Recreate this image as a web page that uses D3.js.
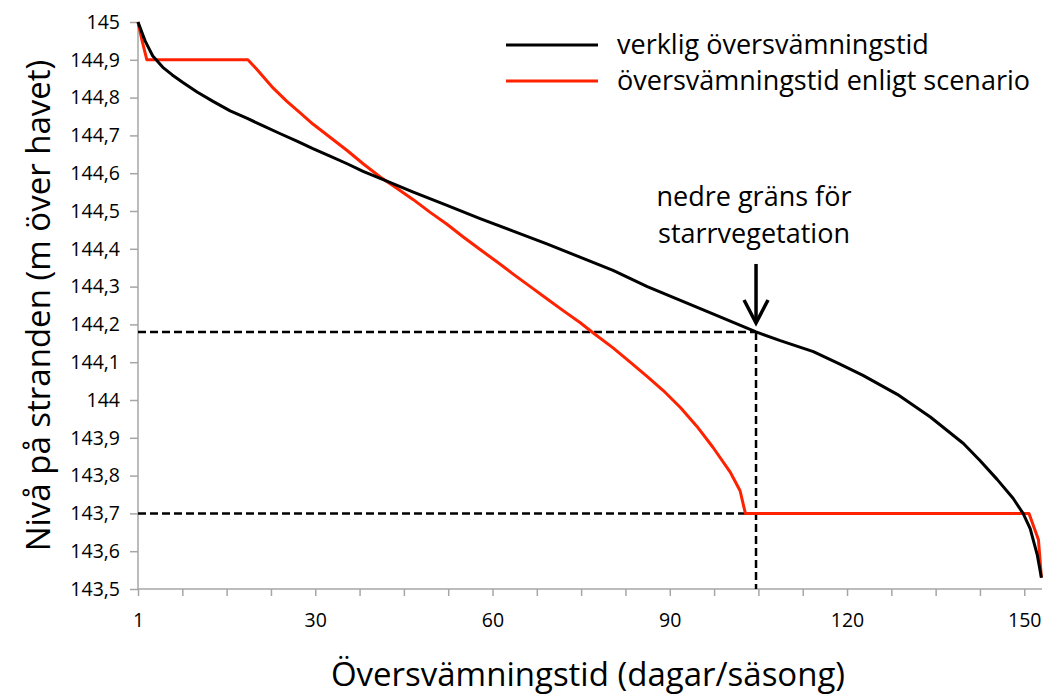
<!DOCTYPE html>
<html>
<head>
<meta charset="utf-8">
<script src="https://cdn.jsdelivr.net/npm/d3@7"></script>
<style>
  body { margin: 0; background: #fff; }
  text { font-family: "Open Sans", sans-serif; fill: #000; }
</style>
</head>
<body>
<svg id="svgChart" width="1046" height="695"></svg>
<script>
// Actual flooding duration (days/season) for each shore level
let actualDays = [0, 1.2, 2.5, 4.2, 5.8, 7.6, 10, 12.7, 15.6, 18.5, 21.2, 24.0, 26.9, 29.6,
  32.5, 35.4, 38.1, 41.5, 46.6, 52.3, 57.9, 63.5, 69.2, 74.8, 80.4, 86.2, 97.3, 104.6,
  108.7, 114.3, 118.8, 122.7, 128.5, 134.1, 139.7, 142.5, 145.4, 148.1, 149.8, 151.0,
  152.2, 152.9];
let actualLevels = [145, 144.95, 144.91, 144.88, 144.86, 144.84, 144.815, 144.79, 144.765,
  144.745, 144.725, 144.705, 144.685, 144.665, 144.645, 144.625, 144.605, 144.583, 144.55,
  144.515, 144.48, 144.447, 144.413, 144.378, 144.343, 144.30, 144.228, 144.18, 144.157,
  144.128, 144.095, 144.065, 144.015, 143.955, 143.885, 143.84, 143.79, 143.74, 143.70,
  143.66, 143.59, 143.53];

// Flooding duration according to the scenario
let scenarioDays = [0, 0.7, 1.5, 18.6, 20.1, 21.2, 22.9, 25.2, 27.4, 29.6, 32.5, 35.4,
  38.1, 41.0, 43.8, 46.6, 49.4, 52.3, 55.0, 57.9, 60.8, 63.5, 66.4, 69.2, 71.9, 74.8,
  77.0, 80.4, 83.3, 86.2, 88.9, 91.8, 94.6, 97.3, 100.2, 101.9, 102.8, 150.8, 152.4, 152.9];
let scenarioLevels = [145, 144.95, 144.90, 144.90, 144.875, 144.855, 144.825, 144.79,
  144.76, 144.73, 144.695, 144.66, 144.625, 144.59, 144.56, 144.53, 144.497, 144.465,
  144.432, 144.398, 144.365, 144.333, 144.30, 144.268, 144.237, 144.205, 144.178, 144.138,
  144.10, 144.062, 144.025, 143.98, 143.93, 143.875, 143.81, 143.76, 143.70, 143.70,
  143.63, 143.53];

// Reference levels
let sedgeLimitDay = 104.6;
let sedgeLimitLevel = 144.18;
let scenarioFloor = 143.7;

// Axis ticks and labels
let xTicks = d3.range(0, 151, 7.5);
let xLabelTicks = [0, 30, 60, 90, 120, 150];
let xLabels = ["1", "30", "60", "90", "120", "150"];
let yTicks = d3.range(0, 16).map(i => 143.5 + i * 0.1);

let seriesNames = ["verklig översvämningstid", "översvämningstid enligt scenario"];
let seriesColours = ["#000000", "#ff2200"];

let svg = d3.select("#svgChart");

let x = d3.scaleLinear().domain([0, 153]).range([138, 1042]);
let y = d3.scaleLinear().domain([143.5, 145]).range([589, 22]);

// Y axis
let yAxis = svg.append("g")
  .attr("transform", `translate(${x(0)},0)`)
  .call(d3.axisLeft(y)
    .tickValues(yTicks)
    .tickSize(8)
    .tickPadding(10)
    .tickFormat(d => String(Math.round(d * 10) / 10).replace(".", ",")));
yAxis.selectAll("text").style("font-size", "19.5px");

// X axis
let xAxis = svg.append("g")
  .attr("transform", `translate(0,${y(143.5)})`)
  .call(d3.axisBottom(x)
    .tickValues(xTicks)
    .tickSize(7)
    .tickPadding(17)
    .tickFormat(d => {
      let i = xLabelTicks.indexOf(d);
      return i >= 0 ? xLabels[i] : "";
    }));
xAxis.selectAll("text").style("font-size", "19.5px");

svg.selectAll(".domain, .tick line")
  .attr("stroke", "#a6a6a6")
  .attr("stroke-width", 1.5);
svg.selectAll(".domain").attr("d", function() {
  return this.parentNode === xAxis.node()
    ? `M${x(0)},0H${x(153)}`
    : `M0,${y(143.5)}V${y(145)}`;
});

// Dashed guide lines
let guides = svg.append("g")
  .attr("stroke", "#000")
  .attr("stroke-width", 2.5)
  .attr("stroke-dasharray", "8,4")
  .attr("fill", "none");
guides.append("line")
  .attr("x1", x(0)).attr("x2", x(sedgeLimitDay))
  .attr("y1", y(sedgeLimitLevel)).attr("y2", y(sedgeLimitLevel));
guides.append("line")
  .attr("x1", x(0)).attr("x2", x(sedgeLimitDay))
  .attr("y1", y(scenarioFloor)).attr("y2", y(scenarioFloor));
guides.append("line")
  .attr("x1", x(sedgeLimitDay)).attr("x2", x(sedgeLimitDay))
  .attr("y1", y(sedgeLimitLevel)).attr("y2", y(143.5));

// Series lines
let line = d3.line()
  .x(d => x(d[0]))
  .y(d => y(d[1]));

let series = [
  d3.zip(actualDays, actualLevels),
  d3.zip(scenarioDays, scenarioLevels)
];

svg.append("path")
  .datum(series[1])
  .attr("d", line)
  .attr("fill", "none")
  .attr("stroke", seriesColours[1])
  .attr("stroke-width", 3)
  .attr("stroke-linejoin", "round");
svg.append("path")
  .datum(series[0])
  .attr("d", line)
  .attr("fill", "none")
  .attr("stroke", seriesColours[0])
  .attr("stroke-width", 3)
  .attr("stroke-linejoin", "round");

// Annotation arrow and text
let ax = x(sedgeLimitDay);
let ay = y(sedgeLimitLevel) - 9;
let arrow = svg.append("g")
  .attr("stroke", "#000")
  .attr("stroke-width", 3.5)
  .attr("fill", "none");
arrow.append("line")
  .attr("x1", ax).attr("x2", ax)
  .attr("y1", ay - 59).attr("y2", ay);
arrow.append("path")
  .attr("d", `M${ax - 12},${ay - 23}L${ax},${ay}L${ax + 12},${ay - 23}`);

let note = svg.append("text")
  .attr("text-anchor", "middle")
  .style("font-size", "27px");
note.append("tspan").attr("x", 754).attr("y", 206).text("nedre gräns för");
note.append("tspan").attr("x", 754).attr("y", 243).text("starrvegetation");

// Legend
let legend = svg.append("g");
seriesNames.forEach((name, i) => {
  let ly = 45 + i * 36;
  legend.append("line")
    .attr("x1", 506).attr("x2", 598)
    .attr("y1", ly).attr("y2", ly)
    .attr("stroke", seriesColours[i])
    .attr("stroke-width", 3);
  legend.append("text")
    .attr("x", 617).attr("y", ly + 9)
    .style("font-size", "27px")
    .text(name);
});

// Axis titles
svg.append("text")
  .attr("x", 588).attr("y", 686)
  .attr("text-anchor", "middle")
  .style("font-size", "33px")
  .text("Översvämningstid (dagar/säsong)");

svg.append("text")
  .attr("transform", `translate(50,${(y(145) + y(143.5)) / 2}) rotate(-90)`)
  .attr("text-anchor", "middle")
  .style("font-size", "33px")
  .text("Nivå på stranden (m över havet)");
</script>
</body>
</html>
